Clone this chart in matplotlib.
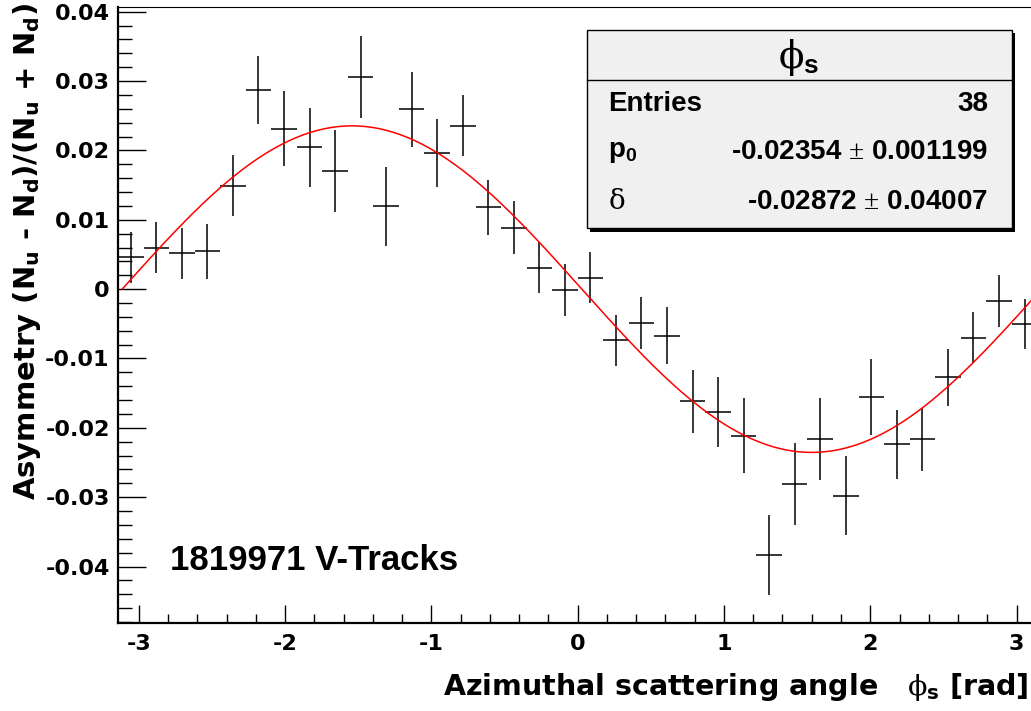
import numpy as np
import matplotlib
matplotlib.use('Agg')
import matplotlib.pyplot as plt
from matplotlib.patches import Rectangle
from matplotlib.lines import Line2D
from matplotlib.ticker import MultipleLocator, FuncFormatter

plt.rcParams['font.family'] = ['DejaVu Sans']
plt.rcParams['font.weight'] = 'bold'
plt.rcParams['axes.unicode_minus'] = False
plt.rcParams['mathtext.fontset'] = 'custom'
plt.rcParams['mathtext.it'] = 'DejaVu Serif:weight=normal'
plt.rcParams['mathtext.rm'] = 'DejaVu Sans:bold'
plt.rcParams['mathtext.bf'] = 'DejaVu Sans:bold'
plt.rcParams['mathtext.sf'] = 'Liberation Sans:bold'
plt.rcParams['mathtext.cal'] = 'Liberation Serif:weight=normal'

HELV = ['Liberation Sans', 'DejaVu Sans']

# 36 bins over [-pi, pi]
n_bins = 36
asym = [0.00457, 0.0060, 0.00514, 0.00543, 0.01489, 0.02877, 0.0231, 0.02046,
        0.0170, 0.03055, 0.01196, 0.02594, 0.01964, 0.02359, 0.01177, 0.00884,
        0.00307, -0.00014, 0.00163, -0.00739, -0.0049, -0.00673, -0.01618,
        -0.01772, -0.02114, -0.03833, -0.02806, -0.02166, -0.02978, -0.01556,
        -0.02238, -0.02166, -0.01268, -0.00701, -0.00169, -0.00504]
asym_err = [0.0037, 0.0037, 0.0037, 0.0040, 0.0044, 0.0049, 0.0054, 0.0057,
            0.0059, 0.0059, 0.0057, 0.0054, 0.0049, 0.0044, 0.0040, 0.0038,
            0.0037, 0.0037, 0.0037, 0.0037, 0.0038, 0.0041, 0.0045, 0.0050,
            0.0054, 0.0058, 0.0059, 0.0059, 0.0057, 0.0055, 0.0050, 0.0045,
            0.0041, 0.0037, 0.0037, 0.0036]

# fit result p0*sin(phi + delta)
p0, p0_err = -0.02354, 0.001199
delta, delta_err = -0.02872, 0.04007
entries = 38
n_tracks = 1819971

W, H = 1031, 711
fig = plt.figure(figsize=(W / 100, H / 100), dpi=100)
ax = fig.add_axes([118 / W, 1 - 623.3 / H, 919.3 / W, (623.3 - 6.7) / H])

edges = np.linspace(-np.pi, np.pi, n_bins + 1)
centers = 0.5 * (edges[1:] + edges[:-1])
half_w = 0.5 * (edges[1] - edges[0])

ax.errorbar(centers, asym, xerr=half_w, yerr=asym_err, fmt='none',
            ecolor='black', elinewidth=1.1, capsize=0)

xf = np.linspace(-3.11, np.pi, 400)
ax.plot(xf, p0 * np.sin(xf + delta), color='red', lw=1.1)

ax.set_xlim(-np.pi, np.pi)
ax.set_ylim(-0.04818, 0.04072)

ax.xaxis.set_major_locator(MultipleLocator(1))
ax.xaxis.set_minor_locator(MultipleLocator(0.2))
ax.yaxis.set_major_locator(MultipleLocator(0.01))
ax.yaxis.set_minor_locator(MultipleLocator(0.002))
ax.xaxis.set_major_formatter(FuncFormatter(lambda v, p: '%d' % round(v)))
ax.yaxis.set_major_formatter(FuncFormatter(lambda v, p: '0' if abs(v) < 1e-9 else '%.2f' % v))

ax.tick_params(axis='both', which='both', direction='in', width=1.0,
               top=False, right=False, labelsize=16)
ax.tick_params(axis='y', which='major', length=20, pad=6)
ax.tick_params(axis='y', which='minor', length=10)
ax.tick_params(axis='x', which='major', length=13, pad=8)
ax.tick_params(axis='x', which='minor', length=6.5)
for lab in ax.get_xticklabels() + ax.get_yticklabels():
    lab.set_fontweight('bold')

ax.spines['left'].set_linewidth(1.6)
ax.spines['bottom'].set_linewidth(1.6)
ax.spines['top'].set_linewidth(0.8)
ax.spines['right'].set_linewidth(0.8)


def fx(px):
    return px / W


def fy(py):
    return 1 - py / H


# axis titles
fig.text(fx(1028), fy(695), r'Azimuthal scattering angle   $\phi_{\mathbf{s}}$ [rad]',
         fontsize=20.5, fontweight='bold', ha='right', va='baseline')
fig.text(fx(27), fy(3),
         r'Asymmetry (N$_{\mathbf{u}}$ - N$_{\mathbf{d}}$)/(N$_{\mathbf{u}}$ + N$_{\mathbf{d}}$)',
         fontsize=21, fontweight='bold', rotation=90, ha='center', va='top')

fig.text(fx(170), fy(560), '%d V-Tracks' % n_tracks, fontsize=25, family=HELV,
         fontweight='bold', ha='left', va='center')

# stats box
bx0, by0, bx1, by1 = 586.7, 30, 1011.7, 228.3
sh = 3.5
fig.patches.append(Rectangle((fx(bx0 + sh), fy(by1 + sh)), (bx1 - bx0) / W, (by1 - by0) / H,
                             transform=fig.transFigure, facecolor='black',
                             edgecolor='black', lw=0, zorder=5))
fig.patches.append(Rectangle((fx(bx0), fy(by1)), (bx1 - bx0) / W, (by1 - by0) / H,
                             transform=fig.transFigure, facecolor='#f0f0f0',
                             edgecolor='black', lw=1.0, zorder=6))
fig.lines.append(Line2D([fx(bx0), fx(bx1)], [fy(80), fy(80)], transform=fig.transFigure,
                        color='black', lw=1.0, zorder=7))

fig.text(fx(799), fy(57), r'$\phi_{\mathsf{s}}$', fontsize=27, family=HELV,
         ha='center', va='center', zorder=8)
rows = [('Entries', '%d' % entries, 104),
        (r'p$_{\mathsf{0}}$', r'%.5f $\mathcal{\pm}$ %.6f' % (p0, p0_err), 152),
        (r'$\delta$', r'%.5f $\mathcal{\pm}$ %.5f' % (delta, delta_err), 202)]
for name, val, yy in rows:
    fig.text(fx(608), fy(yy), name, fontsize=20, family=HELV, fontweight='bold',
             ha='left', va='center', zorder=8)
    fig.text(fx(988), fy(yy), val, fontsize=20, family=HELV, fontweight='bold',
             ha='right', va='center', zorder=8)

fig.savefig('out.png', dpi=100)
